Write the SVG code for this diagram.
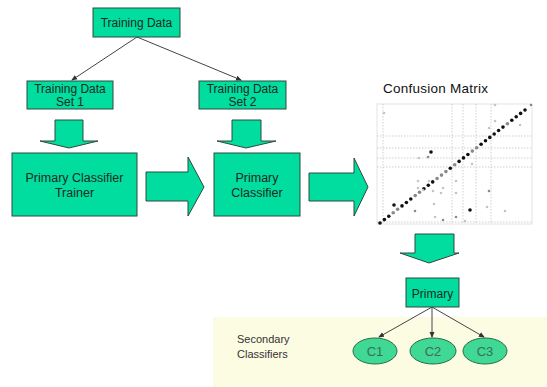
<svg xmlns="http://www.w3.org/2000/svg" width="547" height="387" viewBox="0 0 547 387">
<defs>
<style>
.box{fill:#00DD9E;stroke:#2f4a3e;stroke-width:1}
.arr{fill:#00DD9E;stroke:#2f4a3e;stroke-width:1;stroke-linejoin:miter}
.t{font-family:"Liberation Sans",Arial,sans-serif;font-size:12px;fill:#1a2a22;text-anchor:middle}
.t13{font-family:"Liberation Sans",Arial,sans-serif;font-size:12.5px;fill:#1a2a22;text-anchor:middle}
.con{stroke:#444;stroke-width:1;fill:none;marker-end:url(#ah)}
.ell{fill:#3FD894;stroke:#2a6a4a;stroke-width:1}
.ct{font-family:"Liberation Sans",Arial,sans-serif;font-size:13px;fill:#3d6e5c;text-anchor:middle}
.grid{stroke:#bbb;stroke-width:0.7;stroke-dasharray:1.5 1.5;fill:none}
.bd{fill:#111}
.gd{fill:#8a8a8a}
.ld{fill:#c4c4c4}
</style>
<marker id="ah" markerWidth="6" markerHeight="6" refX="5" refY="3" orient="auto" markerUnits="userSpaceOnUse">
<path d="M0,0.5 L6,3 L0,5.5 Z" fill="#333"/>
</marker>
</defs>
<rect width="547" height="387" fill="#fff"/>
<rect id="secondary-bg" x="213" y="317" width="334" height="70" fill="#FCFCE2"/>

<g id="connectors">
<line class="con" x1="137" y1="37" x2="72" y2="80"/>
<line class="con" x1="137" y1="37" x2="241" y2="80"/>
<line class="con" x1="432" y1="307" x2="379" y2="337"/>
<line class="con" x1="432" y1="307" x2="432" y2="337"/>
<line class="con" x1="432" y1="307" x2="484" y2="337"/>
<polygon class="arr" points="55,120 83,120 83,141 98,141 69,148 40,141 55,141"/>
<polygon class="arr" points="232,120 261,120 261,141 276,141 246,148 217,141 232,141"/>
<polygon class="arr" points="146,172 188,172 188,157 204,187 188,216 188,201 146,201"/>
<polygon class="arr" points="309,173 354,173 354,158 368,187 354,216 354,201 309,201"/>
<polygon class="arr" points="415,234 454,234 454,253 459,253 429,263 400,253 415,253"/>
</g>

<g id="training-data">
<rect class="box" x="93" y="8" width="87" height="29"/>
<text class="t" x="136.5" y="27">Training Data</text>
</g>
<g id="training-set-1">
<rect class="box" x="27" y="81" width="86" height="28"/>
<text class="t" x="70" y="93">Training Data</text>
<text class="t" x="70" y="106">Set 1</text>
</g>
<g id="training-set-2">
<rect class="box" x="199" y="81" width="87" height="28"/>
<text class="t" x="242.5" y="93">Training Data</text>
<text class="t" x="242.5" y="106">Set 2</text>
</g>
<g id="trainer">
<rect class="box" x="12" y="153" width="125" height="63"/>
<text class="t13" x="74.5" y="182">Primary Classifier</text>
<text class="t13" x="74.5" y="197">Trainer</text>
</g>
<g id="primary-classifier">
<rect class="box" x="214" y="153" width="86" height="63"/>
<text class="t13" x="257" y="182">Primary</text>
<text class="t13" x="257" y="197">Classifier</text>
</g>

<g id="confusion-matrix">
<text x="383" y="93" font-family="'Liberation Sans',Arial,sans-serif" font-size="13.5" fill="#111" textLength="105">Confusion Matrix</text>
<rect x="377" y="104" width="155" height="120" fill="#fff" stroke="#ddd" stroke-width="0.8"/>
<path class="grid" d="M383,104V224M452,104V224M463,104V224M476,104V224M491,104V224M377,136H532M377,148H532M377,158H532M377,167H532M377,222H532"/>
<g>
<circle class="bd" cx="380" cy="223" r="1.8"/>
<circle class="bd" cx="384.4" cy="219.6" r="1.8"/>
<circle class="bd" cx="388.8" cy="216.2" r="1.8"/>
<circle class="gd" cx="393.2" cy="212.7" r="1.8"/>
<circle class="gd" cx="397.6" cy="209.3" r="1.8"/>
<circle class="bd" cx="402" cy="205.9" r="1.8"/>
<circle class="bd" cx="406.4" cy="202.5" r="1.8"/>
<circle class="bd" cx="410.8" cy="199" r="1.8"/>
<circle class="gd" cx="415.2" cy="195.6" r="1.8"/>
<circle class="gd" cx="419.5" cy="192.2" r="1.8"/>
<circle class="bd" cx="423.9" cy="188.8" r="1.8"/>
<circle class="bd" cx="428.3" cy="185.3" r="1.8"/>
<circle class="bd" cx="432.7" cy="181.9" r="1.8"/>
<circle class="gd" cx="437.1" cy="178.5" r="1.8"/>
<circle class="gd" cx="441.5" cy="175.1" r="1.8"/>
<circle class="gd" cx="445.9" cy="171.6" r="1.8"/>
<circle class="bd" cx="450.3" cy="168.2" r="1.8"/>
<circle class="gd" cx="454.7" cy="164.8" r="1.8"/>
<circle class="bd" cx="459.1" cy="161.4" r="1.8"/>
<circle class="bd" cx="463.5" cy="157.9" r="1.8"/>
<circle class="bd" cx="467.9" cy="154.5" r="1.8"/>
<circle class="gd" cx="472.3" cy="151.1" r="1.8"/>
<circle class="gd" cx="476.7" cy="147.7" r="1.8"/>
<circle class="bd" cx="481.1" cy="144.2" r="1.8"/>
<circle class="bd" cx="485.5" cy="140.8" r="1.8"/>
<circle class="bd" cx="489.8" cy="137.4" r="1.8"/>
<circle class="bd" cx="494.2" cy="134" r="1.8"/>
<circle class="bd" cx="498.6" cy="130.5" r="1.8"/>
<circle class="bd" cx="503" cy="127.1" r="1.8"/>
<circle class="gd" cx="507.4" cy="123.7" r="1.8"/>
<circle class="bd" cx="511.8" cy="120.3" r="1.8"/>
<circle class="bd" cx="516.2" cy="116.8" r="1.8"/>
<circle class="bd" cx="520.6" cy="113.4" r="1.8"/>
<circle class="bd" cx="525" cy="110" r="1.8"/>
<circle class="bd" cx="431" cy="152" r="1.8"/>
<circle class="bd" cx="394" cy="205" r="1.8"/>
<circle class="bd" cx="470" cy="210" r="1.8"/>
<circle class="gd" cx="428" cy="157" r="1.3"/>
<circle class="ld" cx="419" cy="158" r="1.3"/>
<circle class="ld" cx="418" cy="181" r="1.3"/>
<circle class="ld" cx="429" cy="181" r="1.3"/>
<circle class="ld" cx="418" cy="188" r="1.3"/>
<circle class="ld" cx="423" cy="190" r="1.3"/>
<circle class="ld" cx="433" cy="191" r="1.3"/>
<circle class="ld" cx="443" cy="188" r="1.3"/>
<circle class="ld" cx="441" cy="193" r="1.3"/>
<circle class="gd" cx="415" cy="211" r="1.3"/>
<circle class="ld" cx="434" cy="204" r="1.3"/>
<circle class="ld" cx="435" cy="217" r="1.3"/>
<circle class="gd" cx="443" cy="220" r="1.3"/>
<circle class="ld" cx="456" cy="181" r="1.3"/>
<circle class="ld" cx="456" cy="193" r="1.3"/>
<circle class="gd" cx="456" cy="217" r="1.3"/>
<circle class="ld" cx="465" cy="221" r="1.3"/>
<circle class="ld" cx="472" cy="164" r="1.3"/>
<circle class="gd" cx="489" cy="191" r="1.3"/>
<circle class="ld" cx="487" cy="207" r="1.3"/>
<circle class="ld" cx="505" cy="211" r="1.3"/>
<circle class="ld" cx="495" cy="121" r="1.3"/>
<circle class="ld" cx="520" cy="125" r="1.3"/>
<circle class="ld" cx="384" cy="113" r="1.3"/>
<circle class="ld" cx="495" cy="105" r="1.3"/>
<circle class="ld" cx="489" cy="128" r="1.3"/>
<circle class="gd" cx="531" cy="105" r="1.3"/>
</g>
</g>

<g id="primary">
<rect class="box" x="406" y="278" width="53" height="29"/>
<text class="t" x="432.5" y="298">Primary</text>
</g>
<g id="secondary-label">
<text x="237" y="343" font-family="'Liberation Sans',Arial,sans-serif" font-size="11" fill="#333">Secondary</text>
<text x="237" y="358" font-family="'Liberation Sans',Arial,sans-serif" font-size="11" fill="#333">Classifiers</text>
</g>
<g id="c1">
<ellipse class="ell" cx="375" cy="351" rx="22" ry="13"/>
<text class="ct" x="375" y="356">C1</text>
</g>
<g id="c2">
<ellipse class="ell" cx="433" cy="351" rx="23" ry="13"/>
<text class="ct" x="433" y="356">C2</text>
</g>
<g id="c3">
<ellipse class="ell" cx="485" cy="351" rx="22" ry="13"/>
<text class="ct" x="485" y="356">C3</text>
</g>
</svg>
